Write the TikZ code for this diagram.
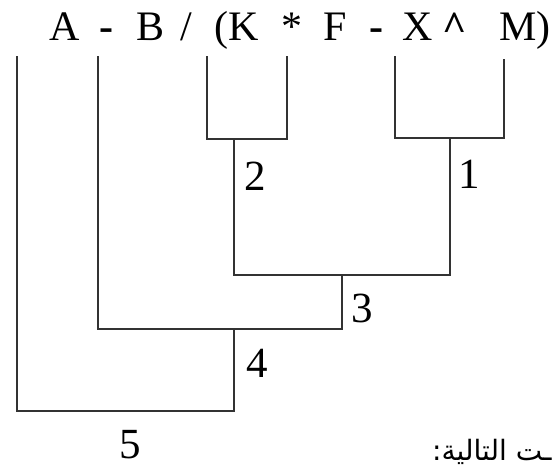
\documentclass[tikz,border=0pt]{standalone}
\usepackage{fontspec}
\setmainfont{Liberation Serif}
\newfontfamily\arabicfont[Script=Arabic]{DejaVu Sans}
\TeXXeTstate=1
\begin{document}
\begin{tikzpicture}[x=1pt,y=-1pt,
  tok/.style={font=\fontsize{42}{50}\selectfont, inner sep=0pt, anchor=base},
  lbl/.style={font=\fontsize{43}{50}\selectfont, inner sep=0pt, anchor=base},
  tree/.style={draw=black!80, line width=1.5pt, line cap=rect}]
\useasboundingbox (0,0) rectangle (553,466);
\clip (0,0) rectangle (553,466);
% expression tokens
\node[tok] (tA) at (65,40) {A};
\node[tok] (tm1) at (106,40) {\textbf{-}};
\node[tok] (tB) at (151,40) {B};
\node[tok] (tsl) at (186,40) {/};
\node[tok] (tK) at (237,40) {(K};
\node[tok] (tst) at (292,40) {*};
\node[tok] (tF) at (335,40) {F};
\node[tok] (tm2) at (376,40) {\textbf{-}};
\node[tok] (tX) at (418,40) {X};
\node[tok] (tc) at (455,40) {\textbf{\^{}}};
\node[tok] (tM) at (525,40) {M)};
% leaf tops
\coordinate (a0) at (17,57);
\coordinate (b0) at (98,57);
\coordinate (k0) at (207,57);
\coordinate (f0) at (287,57);
\coordinate (x0) at (395,57);
\coordinate (m0) at (504,60);
% junctions
\coordinate (kb) at (207,139);
\coordinate (fb) at (287,139);
\coordinate (n2) at (234,139);
\coordinate (xb) at (395,138);
\coordinate (mb) at (504,138);
\coordinate (n1) at (450,138);
\coordinate (h2) at (234,275);
\coordinate (h1) at (450,275);
\coordinate (n3) at (342,275);
\coordinate (h3r) at (342,329);
\coordinate (h3l) at (98,329);
\coordinate (n4) at (234,329);
\coordinate (h4r) at (234,411);
\coordinate (h4l) at (17,411);
% tree lines
\draw[tree] (k0) -- (kb) -- (fb) -- (f0);
\draw[tree] (x0) -- (xb) -- (mb) -- (m0);
\draw[tree] (n2) -- (h2) -- (h1) -- (n1);
\draw[tree] (n3) -- (h3r) -- (h3l) -- (b0);
\draw[tree] (n4) -- (h4r) -- (h4l) -- (a0);
% step labels
\node[lbl] (l2) at (255,190) {2};
\node[lbl] (l1) at (469,188) {1};
\node[lbl] (l3) at (362,322) {3};
\node[lbl] (l4) at (257,377) {4};
\node[lbl] (l5) at (130,458) {5};
% clipped Arabic text
\node[inner sep=0pt, anchor=base west, font=\arabicfont\fontsize{28}{32}\selectfont] (ar) at (432,460) {\beginR ـت التالية:\endR};
\end{tikzpicture}
\end{document}
